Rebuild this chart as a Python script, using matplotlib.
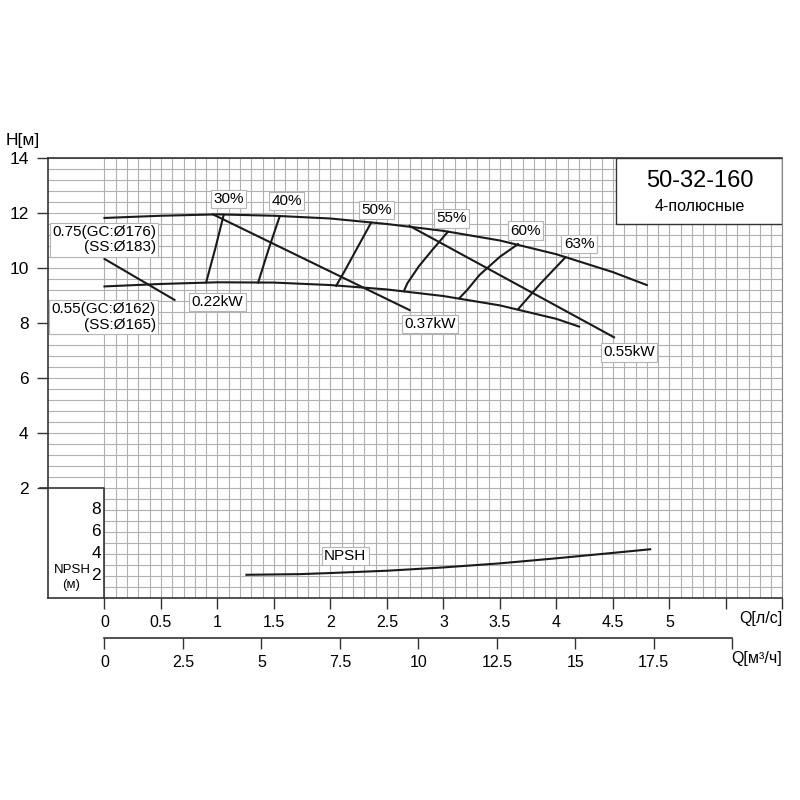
import numpy as np
import matplotlib
matplotlib.use('Agg')
import matplotlib.pyplot as plt
from matplotlib.patches import Rectangle

plt.rcParams['font.family'] = ['Liberation Sans', 'DejaVu Sans']

# H-Q curves (Q in l/s, H in m)
q_big = [0, 0.5, 1.0, 1.5, 2.0, 2.5, 3.0, 3.5, 4.0, 4.5, 4.8]
h_big = [11.82, 11.9, 11.95, 11.9, 11.8, 11.6, 11.35, 11.0, 10.5, 9.85, 9.38]
q_small = [0, 0.5, 1.0, 1.5, 2.0, 2.5, 3.0, 3.5, 4.0, 4.2]
h_small = [9.33, 9.42, 9.48, 9.47, 9.38, 9.22, 8.98, 8.64, 8.15, 7.87]

# power lines
power_labels = ['0.22kW', '0.37kW', '0.55kW']
power_q = [[0, 0.62], [0.96, 2.70], [2.70, 4.51]]
power_h = [[10.33, 8.84], [11.95, 8.47], [11.53, 7.48]]
power_text_pos = [(1.00, 8.77), (2.88, 7.96), (4.64, 6.93)]

# iso-efficiency lines
eff_labels = ['30%', '40%', '50%', '55%', '60%', '63%']
eff_q = [[1.055, 0.98, 0.90], [1.55, 1.45, 1.36], [2.36, 2.28, 2.20, 2.12, 2.05],
         [3.04, 2.90, 2.78, 2.68, 2.65], [3.66, 3.50, 3.32, 3.21, 3.14], [4.08, 3.86, 3.66]]
eff_h = [[11.93, 10.7, 9.48], [11.87, 10.65, 9.47], [11.65, 11.05, 10.45, 9.85, 9.35],
         [11.32, 10.65, 10.05, 9.44, 9.16], [10.87, 10.41, 9.75, 9.20, 8.90], [10.39, 9.44, 8.50]]
eff_text_pos = [(1.10, 12.51), (1.61, 12.44), (2.41, 12.11),
                (3.07, 11.81), (3.73, 11.36), (4.20, 10.87)]

# NPSH curve (m)
q_npsh = [1.256, 1.73, 2.0, 2.5, 3.0, 3.5, 4.0, 4.5, 4.83]
npsh = [2.11, 2.17, 2.27, 2.48, 2.78, 3.15, 3.61, 4.10, 4.43]

q_ticks = np.arange(0, 6.01, 0.5)
q_tick_labels = ['0', '0.5', '1', '1.5', '2', '2.5', '3', '3.5', '4', '4.5', '5', '', '']
m3h_ticks = np.arange(0, 20.01, 2.5)
m3h_tick_labels = ['0', '2.5', '5', '7.5', '10', '12.5', '15', '17.5', '']
h_ticks = [2, 4, 6, 8, 10, 12, 14]
npsh_ticks = [2, 4, 6, 8]


def npsh_to_h(v):
    return -2 + 0.4 * np.asarray(v)


fig = plt.figure(figsize=(8, 8), dpi=100)
ax = fig.add_axes([0.06, 0.2525, 0.918, 0.55])
ax.set_xlim(-0.5, 6)
ax.set_ylim(-2, 14)

dark = '#333333'
grid_c = '#b0b0b0'

ax.set_xticks(q_ticks)
ax.set_xticklabels(q_tick_labels, fontsize=11.5)
ax.set_xticks(np.arange(0, 6.01, 0.1), minor=True)
ax.set_yticks(h_ticks)
ax.set_yticklabels([str(v) for v in h_ticks], fontsize=12.5)
ax.set_yticks(np.arange(-2, 14.01, 0.4), minor=True)
ax.tick_params(axis='both', which='minor', length=0)
ax.tick_params(axis='x', which='major', direction='out', length=8, width=1, color=dark, pad=4)
ax.tick_params(axis='y', which='major', direction='out', length=8, width=1, color=dark, pad=6)
ax.grid(which='both', color=grid_c, lw=0.8)
ax.set_axisbelow(True)
for s in ['left', 'bottom', 'top']:
    ax.spines[s].set_color(dark)
    ax.spines[s].set_linewidth(1.2)
ax.spines['right'].set_color('#888888')

# NPSH sub-box on the left
ax.add_patch(Rectangle((-0.5, -2), 0.5, 4, fc='white', ec='none', zorder=1))
ax.plot([-0.5, 0, 0], [2, 2, -2], color=dark, lw=1.2, zorder=2, clip_on=False)
ax.plot([-0.57, -0.5], [2, 2], color=dark, lw=1.2, clip_on=False)
for v in npsh_ticks:
    ax.text(-0.03, npsh_to_h(v), str(v), ha='right', va='center', fontsize=12.5, zorder=3)
ax.text(-0.285, -0.98, 'NPSH', ha='center', va='center', fontsize=9.5, zorder=3)
ax.text(-0.295, -1.53, '(м)', ha='center', va='center', fontsize=9.5, zorder=3)

line_kw = dict(color='#1a1a1a', lw=1.5, zorder=3)
box_kw = dict(boxstyle='square,pad=0.15', fc='white', ec='#b5b5b5', lw=0.8)

ax.plot(q_big, h_big, **line_kw)
ax.plot(q_small, h_small, **line_kw)
for qs, hs in zip(power_q, power_h):
    ax.plot(qs, hs, **line_kw)
for qs, hs in zip(eff_q, eff_h):
    ax.plot(qs, hs, **line_kw)
ax.plot(q_npsh, npsh_to_h(npsh), **line_kw)

for lab, (x, y) in zip(power_labels, power_text_pos):
    ax.text(x, y, lab, ha='center', va='center', fontsize=11, bbox=box_kw, zorder=4)
for lab, (x, y) in zip(eff_labels, eff_text_pos):
    ax.text(x, y, lab, ha='center', va='center', fontsize=11, bbox=box_kw, zorder=4)

ax.text(0.455, 11.02, '0.75(GC:Ø176)\n(SS:Ø183)', ha='right', va='center',
        fontsize=11, linespacing=1.1, bbox=box_kw, zorder=4)
ax.text(0.455, 8.22, '0.55(GC:Ø162)\n(SS:Ø165)', ha='right', va='center',
        fontsize=11, linespacing=1.1, bbox=box_kw, zorder=4)
ax.text(2.13, npsh_to_h(3.8), 'NPSH', ha='center', va='center', fontsize=11,
        bbox=box_kw, zorder=4)

# model box
ax.add_patch(Rectangle((4.53, 11.6), 1.47, 2.4, fc='white', ec=dark, lw=1.0, zorder=4))
ax.text(5.27, 13.16, '50-32-160', ha='center', va='center', fontsize=17, zorder=5)
ax.text(5.27, 12.25, '4-полюсные', ha='center', va='center', fontsize=11.5, zorder=5)

fig.text(23 / 800, 1 - 141 / 800, 'H[м]', ha='center', va='center', fontsize=12.5)
fig.text(782 / 800, 1 - 618 / 800, 'Q[л/с]', ha='right', va='center', fontsize=11.5)

# second flow axis in m3/h
ax2 = fig.add_axes([0.06, 1 - 638 / 800, 0.918, 0.0005])
ax2.set_xlim(-0.5 * 3.6, 6 * 3.6)
ax2.set_yticks([])
for s in ['left', 'right', 'top']:
    ax2.spines[s].set_visible(False)
ax2.spines['bottom'].set_bounds(0, 20)
ax2.spines['bottom'].set_color(dark)
ax2.spines['bottom'].set_linewidth(1.2)
ax2.set_xticks(m3h_ticks)
ax2.set_xticklabels(m3h_tick_labels, fontsize=11.5)
ax2.tick_params(axis='x', direction='out', length=8, width=1, color=dark, pad=4)
ax2.patch.set_alpha(0)
fig.text(782 / 800, 1 - 658 / 800, 'Q[м³/ч]', ha='right', va='center', fontsize=11.5)

fig.savefig('out.png', dpi=100)
